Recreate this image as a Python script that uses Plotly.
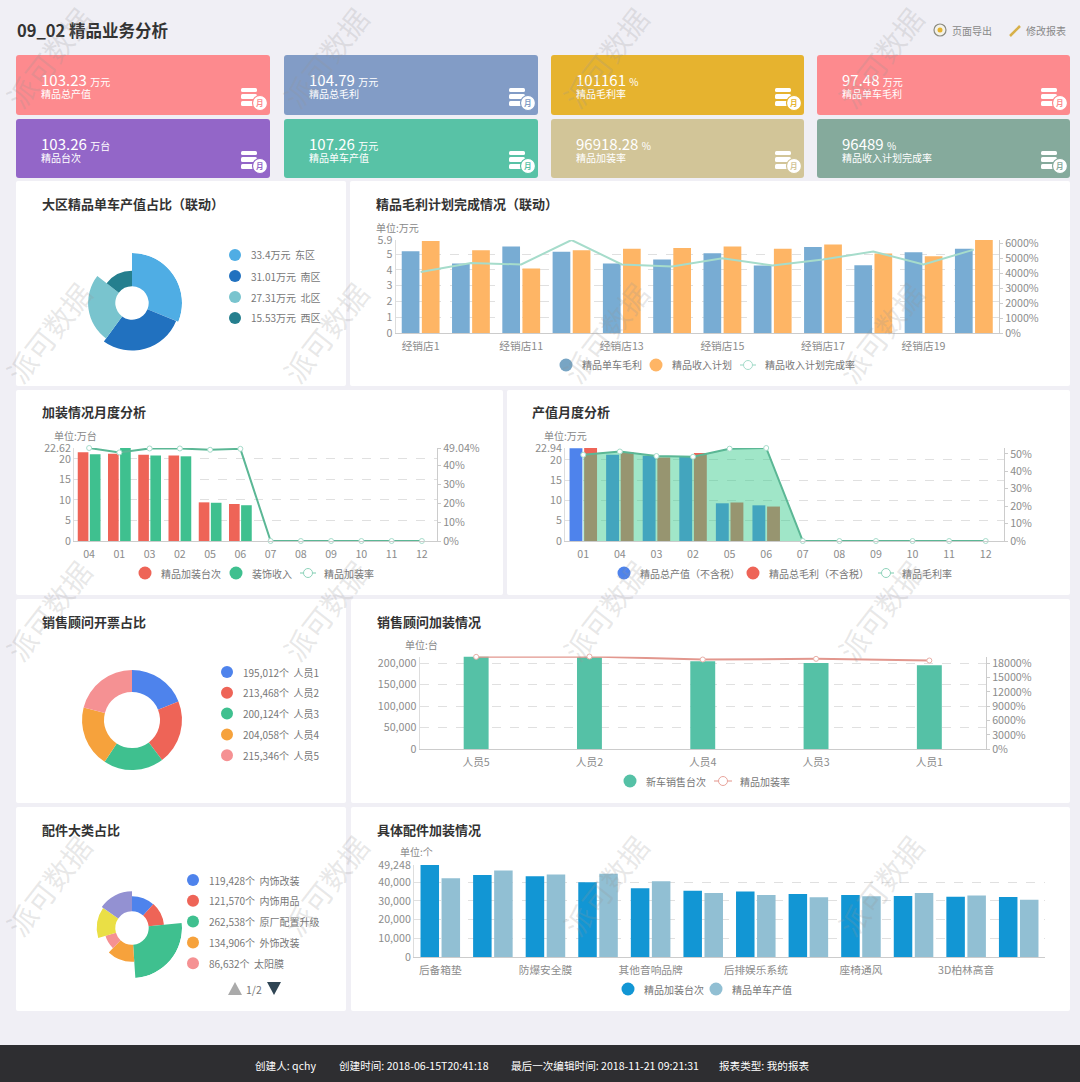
import plotly.graph_objects as go

W, H = 1080, 1082
FONT = "Noto Sans CJK SC"

# ---------- data ----------
kpi_values = ["103.23", "104.79", "101161", "97.48", "103.26", "107.26", "96918.28", "96489"]
kpi_units = ["万元", "万元", "%", "万元", "万台", "万元", "%", "%"]
kpi_labels = ["精品总产值", "精品总毛利", "精品毛利率", "精品单车毛利",
              "精品台次", "精品单车产值", "精品加装率", "精品收入计划完成率"]
kpi_colors = ["#fd8a8e", "#829cc6", "#e6b32f", "#fd8a8e", "#9366c8", "#58c2a6", "#d2c598", "#85aa9c"]

region_names = ["东区", "南区", "北区", "西区"]
region_values = [33.4, 31.01, 27.31, 15.53]
region_colors = ["#4fade4", "#2171bf", "#79c4ce", "#257f8e"]

store_names = ["经销店1", "经销店10", "经销店11", "经销店12", "经销店13", "经销店14",
               "经销店15", "经销店16", "经销店17", "经销店18", "经销店19", "经销店2"]
store_margin = [5.19, 4.41, 5.49, 5.15, 4.41, 4.66, 5.06, 4.28, 5.46, 4.30, 5.13, 5.34]
store_plan = [5.84, 5.25, 4.09, 5.25, 5.34, 5.40, 5.49, 5.34, 5.61, 5.04, 4.87, 5.90]
store_rate = [4070, 4660, 4570, 6200, 4570, 4440, 4990, 4500, 4900, 5430, 4570, 5560]

fit_months = ["04", "01", "03", "02", "05", "06", "07", "08", "09", "10", "11", "12"]
fit_count = [21.6, 21.2, 21.0, 20.8, 9.4, 9.0, 0, 0, 0, 0, 0, 0]
fit_income = [21.1, 22.62, 20.8, 20.6, 9.3, 8.7, 0, 0, 0, 0, 0, 0]
fit_rate = [49.04, 46.7, 48.8, 48.8, 48.1, 48.6, 0, 0, 0, 0, 0, 0]

out_months = ["01", "04", "03", "02", "05", "06", "07", "08", "09", "10", "11", "12"]
out_total = [22.9, 21.3, 21.0, 20.9, 9.3, 8.8, 0, 0, 0, 0, 0, 0]
out_profit = [22.94, 21.9, 20.6, 21.7, 9.5, 8.5, 0, 0, 0, 0, 0, 0]
out_rate = [49.4, 51.3, 48.7, 48.3, 52.9, 53.3, 0, 0, 0, 0, 0, 0]

staff_legend = ["人员1", "人员2", "人员3", "人员4", "人员5"]
staff_legend_values = [195012, 213468, 200124, 204058, 215346]
staff_colors = ["#4e83ec", "#ee6457", "#3fc08f", "#f6a23c", "#f59193"]

adv_names = ["人员5", "人员2", "人员4", "人员3", "人员1"]
adv_sales = [215346, 213468, 204058, 200124, 195012]
adv_rate = [19400, 19470, 18840, 18980, 18630]

part_names = ["内饰改装", "内饰用品", "原厂配置升级", "外饰改装", "太阳膜", "其他一", "其他二"]
part_values = [119428, 121570, 262538, 134906, 86632, 146000, 158000]
part_colors = ["#4e83ec", "#ee6457", "#3fc08f", "#f6a23c", "#f59193", "#eadf45", "#9391d2"]

acc_tick_pos = [0, 2, 4, 6, 8, 10]
acc_tick_names = ["后备箱垫", "防爆安全膜", "其他音响品牌", "后排娱乐系统", "座椅通风", "3D柏林高音"]
acc_count = [49248, 43900, 43200, 40000, 36800, 35500, 35000, 33750, 33200, 32700, 32300, 32100]
acc_value = [42100, 46250, 44100, 44600, 40500, 34300, 33200, 32000, 32500, 34300, 32900, 30700]

# ---------- helpers ----------
X = lambda x: x / W
Y = lambda y: 1 - y / H
shapes, annos, traces = [], [], []
layout_axes = {}


def text(x, y, s, size=10.5, color="#777", anchor="left", bold=False, angle=0, family=FONT):
    annos.append(dict(x=X(x), y=Y(y), xref="paper", yref="paper", showarrow=False,
                      text=f"<b>{s}</b>" if bold else s, xanchor=anchor, yanchor="middle",
                      font=dict(size=size, color=color, family=family), textangle=angle, borderpad=0))


def rrect(x0, y0, x1, y1, r, color, layer="below"):
    p = (f"M{X(x0 + r)},{Y(y0)} L{X(x1 - r)},{Y(y0)} Q{X(x1)},{Y(y0)} {X(x1)},{Y(y0 + r)} "
         f"L{X(x1)},{Y(y1 - r)} Q{X(x1)},{Y(y1)} {X(x1 - r)},{Y(y1)} L{X(x0 + r)},{Y(y1)} "
         f"Q{X(x0)},{Y(y1)} {X(x0)},{Y(y1 - r)} L{X(x0)},{Y(y0 + r)} Q{X(x0)},{Y(y0)} {X(x0 + r)},{Y(y0)} Z")
    shapes.append(dict(type="path", xref="paper", yref="paper", path=p, fillcolor=color,
                       line=dict(width=0), layer=layer))


def circle(cx, cy, r, color, line=None, lw=0, layer="above"):
    shapes.append(dict(type="circle", xref="paper", yref="paper", x0=X(cx - r), x1=X(cx + r),
                       y0=Y(cy + r), y1=Y(cy - r), fillcolor=color,
                       line=dict(width=lw, color=line or color), layer=layer))


def hline(x0, x1, y, color, w=1.5):
    shapes.append(dict(type="line", xref="paper", yref="paper", x0=X(x0), x1=X(x1), y0=Y(y), y1=Y(y),
                       line=dict(color=color, width=w), layer="above"))


def legend_dot(x, y, label, color):
    circle(x, y, 6.5, color)
    text(x + 15, y, label, 10, "#777")


def legend_line(x0, x1, y, label, color, tx):
    hline(x0, x1, y, color, 1.2)
    circle((x0 + x1) / 2, y, 4.5, "white", color, 1)
    text(tx, y, label, 10, "#777")


axis_n = [0]


def add_axes(box, left_range, left_ticks, left_text, right_range=None, right_ticks=None, right_text=None,
             xticks=None, xtext=None, standoff=3):
    x0, x1, y0, y1 = box
    n = axis_n[0] + 1
    axis_n[0] += 2
    xa, ya, yb = f"x{n}", f"y{n}", f"y{n + 1}"
    tick_font = dict(size=10.7, color="#8c8c8c", family=FONT)
    xax = dict(domain=[X(x0), X(x1)], anchor=ya, showgrid=False, zeroline=False, showline=True,
               linecolor="#ccc", linewidth=1, ticks="", tickfont=tick_font, ticklabelstandoff=standoff,
               tickangle=0)
    if xticks is not None:
        xax.update(tickmode="array", tickvals=xticks, ticktext=xtext)
    layout_axes[f"xaxis{n}"] = xax
    layout_axes[f"yaxis{n}"] = dict(domain=[Y(y1), Y(y0)], anchor=xa, range=left_range, tickmode="array",
                                    tickvals=left_ticks, ticktext=left_text, showgrid=True, gridcolor="#e0e0e0",
                                    griddash="dash", gridwidth=1, zeroline=False, showline=True,
                                    linecolor="#ddd", ticks="", tickfont=tick_font)
    if right_range is not None:
        layout_axes[f"yaxis{n + 1}"] = dict(domain=[Y(y1), Y(y0)], anchor=xa, overlaying=ya, side="right",
                                            range=right_range, tickmode="array", tickvals=right_ticks,
                                            ticktext=right_text, showgrid=False, zeroline=False, showline=True,
                                            linecolor="#ccc", ticks="outside", ticklen=3, tickcolor="#ccc",
                                            tickfont=tick_font)
    return xa, ya, yb, f"xaxis{n}"


def bar(x, y, color, xa, ya, width=None):
    traces.append(go.Bar(x=x, y=y, marker=dict(color=color, line=dict(width=0)), xaxis=xa, yaxis=ya,
                         width=width, showlegend=False))


def rose(cx, cy, R, hole, values, colors, name):
    total, maxv = sum(values), max(values)
    centers, widths, acc = [], [], 0
    for v in values:
        w = v / total * 360
        centers.append(acc + w / 2)
        widths.append(w)
        acc += w
    traces.append(go.Barpolar(r=values, theta=centers, width=widths, base=0,
                              marker=dict(color=colors, line=dict(width=0)), subplot=name, showlegend=False))
    layout_axes[name] = dict(
        domain=dict(x=[X(cx - R), X(cx + R)], y=[Y(cy + R), Y(cy - R)]),
        bgcolor="rgba(0,0,0,0)",
        angularaxis=dict(visible=False, direction="clockwise", rotation=90),
        radialaxis=dict(visible=False, range=[-maxv * hole / (R - hole), maxv]),
    )


# ---------- page background ----------
rrect(0, 1045, W, H, 0.01, "#2e2e31")
panels = [(16, 181, 346, 386), (350, 181, 1070, 386), (16, 390, 503, 595), (507, 390, 1070, 595),
          (16, 599, 346, 803), (351, 599, 1070, 803), (16, 807, 346, 1011), (351, 807, 1070, 1011)]
for p in panels:
    rrect(*p, 2, "#ffffff")

text(16, 30, "09_02 精品业务分析", 16.5, "#333", bold=True)
circle(940, 30, 6, "#f4f2e8", "#8a8a80", 1.2)
circle(940, 30, 2.5, "#e6b32f")
text(951, 30, "页面导出", 10, "#888")
shapes.append(dict(type="line", xref="paper", yref="paper", x0=X(1010), x1=X(1020), y0=Y(36), y1=Y(26),
                   line=dict(color="#d7b04a", width=2.5), layer="above"))
text(1025, 30, "修改报表", 10, "#888")

# ---------- KPI cards ----------
card_cols = [(16, 270), (284, 538), (551, 804), (817, 1070)]
card_rows = [(55, 115), (119, 178)]
for i, (val, unit, lab, col) in enumerate(zip(kpi_values, kpi_units, kpi_labels, kpi_colors)):
    x0, x1 = card_cols[i % 4]
    y0, y1 = card_rows[i // 4]
    rrect(x0, y0, x1, y1, 3, col)
    text(x0 + 23.5, y0 + 24, f'{val} <span style="font-size:10px">{unit}</span>', 15, "#fff")
    text(x0 + 23.5, y0 + 39, lab, 10, "#fff")
    for a, b in [(-27, -23), (-21, -16), (-14, -9)]:
        rrect(x1 - 29, y1 + a, x1 - 13, y1 + b, 1.5, "#ffffff", layer="above")
    circle(x1 - 10, y1 - 12, 7.5, "#ffffff", col, 1.2)
    text(x1 - 10, y1 - 12, "月", 7.5, col, anchor="center", bold=True)

# ---------- panel titles ----------
for x, y, t in [(41, 204, "大区精品单车产值占比（联动）"), (375, 204, "精品毛利计划完成情况（联动）"),
                (41, 412, "加装情况月度分析"), (531, 412, "产值月度分析"),
                (41, 621, "销售顾问开票占比"), (376, 621, "销售顾问加装情况"),
                (41, 829, "配件大类占比"), (376, 829, "具体配件加装情况")]:
    text(x, y, t, 13, "#333", bold=True)
for x, y, t in [(375, 227, "单位:万元"), (53, 435, "单位:万台"), (543, 435, "单位:万元"),
                (404, 644, "单位:台"), (399, 851, "单位:个")]:
    text(x, y, t, 10, "#888")

# ---------- region rose ----------
rose(132, 303, 50, 16.7, region_values, region_colors, "polar")
for i, (n, v, c) in enumerate(zip(region_names, region_values, region_colors)):
    y = 255 + i * 21
    circle(235, y, 6, c)
    text(250, y, f"{v}万元  {n}", 10, "#777")

# ---------- store chart ----------
xa, ya, yb, xn = add_axes((395.5, 999, 240, 333), [0, 5.9], [0, 1, 2, 3, 4, 5, 5.9], ["0", "1", "2", "3", "4", "5", "5.9"],
                          [0, 6200], [0, 1000, 2000, 3000, 4000, 5000, 6000],
                          [f"{v}%" for v in range(0, 6001, 1000)],
                          xticks=store_names[::2], xtext=store_names[::2])
layout_axes[xn]["range"] = [-0.5, len(store_names) - 0.5]
bar(store_names, store_margin, "#78acd3", xa, ya)
bar(store_names, store_plan, "#feb565", xa, ya)
traces.append(go.Scatter(x=store_names, y=store_rate, mode="lines", line=dict(color="#a6dccb", width=2),
                         xaxis=xa, yaxis=yb, showlegend=False, cliponaxis=False))
legend_dot(566, 365, "精品单车毛利", "#78a5c4")
legend_dot(656, 365, "精品收入计划", "#feb565")
legend_line(740, 756, 365, "精品收入计划完成率", "#a6dccb", 764)

# ---------- fit chart ----------
xa, ya, yb, xn = add_axes((74, 437, 448, 541), [0, 22.62], [0, 5, 10, 15, 20, 22.62], ["0", "5", "10", "15", "20", "22.62"],
                          [0, 49.04], [0, 10, 20, 30, 40, 49.04], ["0%", "10%", "20%", "30%", "40%", "49.04%"])
layout_axes[xn]["range"] = [-0.5, len(fit_months) - 0.5]
bar(fit_months, fit_count, "#ee6457", xa, ya)
bar(fit_months, fit_income, "#3fc08f", xa, ya)
traces.append(go.Scatter(x=fit_months, y=fit_rate, mode="lines+markers", line=dict(color="#5bb795", width=2),
                         marker=dict(size=5, color="#fff", line=dict(color="#a6dccb", width=1)),
                         xaxis=xa, yaxis=yb, showlegend=False, cliponaxis=False))
legend_dot(145, 573, "精品加装台次", "#ee6457")
legend_dot(236, 573, "装饰收入", "#3fc08f")
legend_line(300, 316, 573, "精品加装率", "#8fd3bb", 323)

# ---------- output chart ----------
xa, ya, yb, xn = add_axes((565, 1004, 448, 541), [0, 22.94], [0, 5, 10, 15, 20, 22.94], ["0", "5", "10", "15", "20", "22.94"],
                          [0, 53.3], [0, 10, 20, 30, 40, 50], ["0%", "10%", "20%", "30%", "40%", "50%"])
layout_axes[xn]["range"] = [-0.5, len(out_months) - 0.5]
bar(out_months, out_total, "#4e83ec", xa, ya)
bar(out_months, out_profit, "#ee6457", xa, ya)
traces.append(go.Scatter(x=out_months, y=out_rate, mode="lines+markers", fill="tozeroy",
                         fillcolor="rgba(57,203,140,0.48)", line=dict(color="#5bb795", width=2),
                         marker=dict(size=5, color="#fff", line=dict(color="#a6dccb", width=1)),
                         xaxis=xa, yaxis=yb, showlegend=False, cliponaxis=False))
legend_dot(624, 573, "精品总产值（不含税）", "#4e83ec")
legend_dot(753, 573, "精品总毛利（不含税）", "#ee6457")
legend_line(878, 894, 573, "精品毛利率", "#8fd3bb", 901)

# ---------- staff donut ----------
traces.append(go.Pie(values=staff_legend_values, labels=staff_legend, hole=0.56, sort=False, direction="clockwise",
                     rotation=0, textinfo="none", showlegend=False, marker=dict(colors=staff_colors, line=dict(width=0)),
                     domain=dict(x=[X(82), X(182)], y=[Y(770), Y(670)])))
for i, (n, v, c) in enumerate(zip(staff_legend, staff_legend_values, staff_colors)):
    y = 672 + i * 20.8
    circle(227, y, 6, c)
    text(242, y, f"{v:,}个  {n}", 10, "#777")

# ---------- adviser chart ----------
xa, ya, yb, xn = add_axes((419.5, 986, 656.5, 749), [0, 215346],
                          [0, 50000, 100000, 150000, 200000, 215346], ["0", "50,000", "100,000", "150,000", "200,000", ""],
                          [0, 19470], [0, 3000, 6000, 9000, 12000, 15000, 18000],
                          [f"{v}%" for v in range(0, 18001, 3000)])
layout_axes[xn]["range"] = [-0.5, len(adv_names) - 0.5]
bar(adv_names, adv_sales, "#55c1a6", xa, ya, width=0.22)
traces.append(go.Scatter(x=adv_names, y=adv_rate, mode="lines+markers", line=dict(color="#e2978e", width=2),
                         marker=dict(size=5, color="#fff", line=dict(color="#e8b0a8", width=1)),
                         xaxis=xa, yaxis=yb, showlegend=False, cliponaxis=False))
legend_dot(630, 781, "新车销售台次", "#55c1a6")
legend_line(714, 732, 781, "精品加装率", "#e8a49c", 739)

# ---------- parts rose ----------
rose(132, 928, 50, 16.7, part_values, part_colors, "polar2")
for i, (n, v, c) in enumerate(zip(part_names[:5], part_values[:5], part_colors[:5])):
    y = 880 + i * 20.8
    circle(193, y, 6, c)
    text(208, y, f"{v:,}个  {n}", 10, "#777")
shapes.append(dict(type="path", xref="paper", yref="paper", layer="above", fillcolor="#aaaaaa", line=dict(width=0),
                   path=f"M{X(228)},{Y(995)} L{X(242)},{Y(995)} L{X(235)},{Y(982)} Z"))
shapes.append(dict(type="path", xref="paper", yref="paper", layer="above", fillcolor="#2f4554", line=dict(width=0),
                   path=f"M{X(267)},{Y(982)} L{X(281)},{Y(982)} L{X(274)},{Y(995)} Z"))
text(254, 989, "1/2", 10.5, "#777", anchor="center")

# ---------- accessory chart ----------
xa, ya, yb, xn = add_axes((414, 1045, 865, 957), [0, 49248],
                          [0, 10000, 20000, 30000, 40000, 49248], ["0", "10,000", "20,000", "30,000", "40,000", "49,248"],
                          xticks=acc_tick_pos, xtext=acc_tick_names)
layout_axes[xn]["range"] = [-0.5, len(acc_count) - 0.5]
acc_x = list(range(len(acc_count)))
bar(acc_x, acc_count, "#1296d4", xa, ya)
bar(acc_x, acc_value, "#91bfd3", xa, ya)
legend_dot(628, 989, "精品加装台次", "#1296d4")
legend_dot(716, 989, "精品单车产值", "#91bfd3")

# ---------- footer ----------
for x, t in [(254, "创建人: qchy"), (338, "创建时间: 2018-06-15T20:41:18"),
             (510, "最后一次编辑时间: 2018-11-21 09:21:31"), (718, "报表类型: 我的报表")]:
    text(x, 1065, t, 10.6, "#ffffff")

# ---------- watermark ----------
for wy in [57, 332, 610, 885]:
    for wx in [48, 325, 605, 880]:
        text(wx, wy, "派可数据", 29, "rgba(150,150,150,0.22)", anchor="center", angle=-52)

fig = go.Figure(traces)
fig.update_layout(width=W, height=H, margin=dict(l=0, r=0, t=0, b=0, autoexpand=False), paper_bgcolor="#f0eff5",
                  plot_bgcolor="rgba(0,0,0,0)", shapes=shapes, annotations=annos, barmode="group",
                  bargap=0.2, bargroupgap=0.12, font=dict(family=FONT), showlegend=False, **layout_axes)
fig.write_html("out.html", config=dict(displayModeBar=False),
               post_script="document.body.style.margin='0';document.body.style.overflow='hidden';")
